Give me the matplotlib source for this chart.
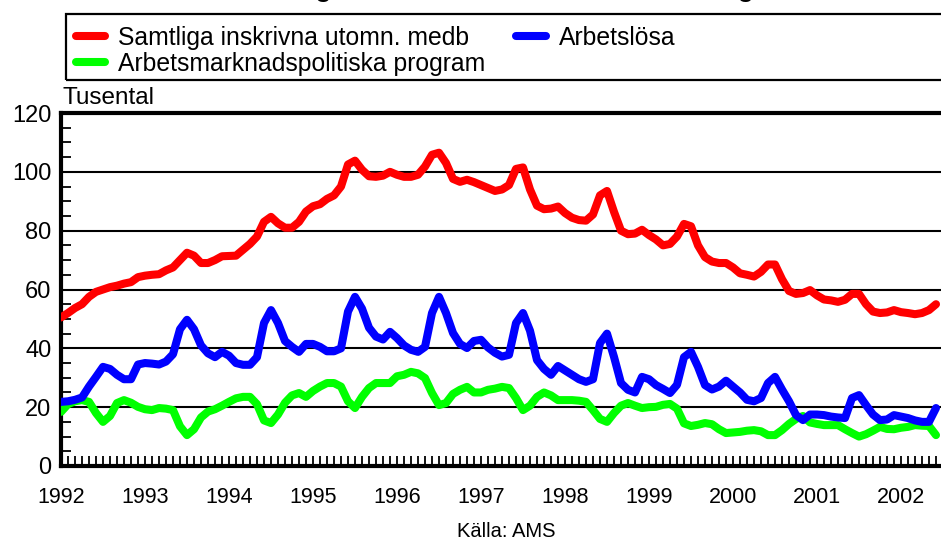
import matplotlib
matplotlib.use("Agg")
import matplotlib.pyplot as plt
from matplotlib.patches import Rectangle
from matplotlib.ticker import MultipleLocator, FixedLocator

plt.rcParams['font.family'] = ['Liberation Sans', 'DejaVu Sans']

# ---- data (thousands, monthly from Jan 1992) ----
start_year = 1992
samtliga = [50.5, 52, 53.7, 55, 57.5, 59.2, 60, 60.8, 61.3, 62, 62.5, 64.2,
            64.7, 65, 65.2, 66.5, 67.5, 70, 72.5, 71.5, 69, 69, 70, 71.3,
            71.4, 71.5, 73.5, 75.5, 78, 83, 84.7, 82.5, 81, 81, 83, 86.5,
            88.3, 89, 90.8, 92, 95, 102.5, 103.8, 100.7, 98.5, 98.3, 98.7, 100,
            99, 98.3, 98.3, 99, 101.8, 105.8, 106.5, 103, 97.6, 96.6, 97.3, 96.5,
            95.5, 94.5, 93.5, 94, 95.5, 101, 101.5, 94, 88.5, 87.3, 87.5, 88.2,
            86, 84.4, 83.6, 83.4, 85.5, 92, 93.5, 86.4, 80, 78.8, 79, 80.3,
            78.5, 77, 75, 75.5, 78, 82.3, 81.5, 75, 71, 69.5, 69, 69,
            67.5, 65.5, 65, 64.4, 66, 68.5, 68.5, 63.5, 59.5, 58.5, 58.8, 59.8,
            58, 56.6, 56.3, 55.8, 56.5, 58.5, 58.5, 55, 52.5, 52, 52.2, 53,
            52.3, 52, 51.6, 52, 53, 55]
arbetslosa = [21.8, 22, 22.5, 23.3, 27, 30.3, 33.7, 33, 31, 29.5, 29.5, 34.5,
              35, 34.8, 34.5, 35.5, 38, 46.5, 49.7, 46.5, 41, 38.3, 37, 38.8,
              37.5, 35, 34.4, 34.4, 37, 48.6, 53, 48.6, 42.5, 40.5, 38.8, 41.5,
              41.5, 40.5, 39, 39, 40, 52.5, 57.5, 53.5, 47, 44, 43, 45.6,
              43.5, 41, 39.5, 38.8, 40.5, 52, 57.5, 52, 45.2, 41.5, 40.1, 42.5,
              42.9, 40.3, 38.5, 37.2, 37.8, 48.6, 52, 46, 36, 33, 31, 34,
              32.5, 31, 29.5, 28.6, 29.5, 41.8, 45, 37.1, 28.2, 25.9, 25, 30.3,
              29.5, 27.5, 26.2, 24.8, 27.6, 37, 38.8, 33.7, 27.5, 26, 27, 29,
              27, 25, 22.5, 22, 23.1, 28.2, 30.3, 26, 22, 17.3, 15.6, 17.5,
              17.5, 17.3, 16.8, 16.5, 16.3, 23.1, 24.1, 20.7, 17.5, 15.6, 15.8, 17.3,
              16.8, 16.3, 15.5, 15, 15, 19.7]
program = [18.4, 21, 22, 22.4, 21.8, 18, 15, 17, 21.4, 22.4, 21.5, 20.1,
           19.3, 19, 19.7, 19.5, 19, 13.5, 10.5, 12.5, 16.5, 18.5, 19.3, 20.5,
           21.8, 23, 23.5, 23.5, 21, 15.5, 14.6, 17.5, 21.5, 24, 24.8, 23.5,
           25.5, 27, 28.2, 28.2, 27, 22, 19.7, 23.5, 26.5, 28.2, 28.2, 28.2,
           30.5, 31, 32, 31.5, 29.9, 24.8, 20.7, 21.4, 24.5, 25.9, 26.9, 25,
           25, 25.9, 26.3, 26.9, 26.5, 23.1, 19, 20.5, 23.5, 25, 24, 22.4,
           22.4, 22.4, 22.2, 21.8, 19, 16, 15, 18, 20.5, 21.4, 20.5, 19.7,
           20, 20.1, 20.8, 21.1, 19.5, 14.5, 13.6, 14, 14.6, 14.2, 12.5, 11.2,
           11.4, 11.6, 12, 12.2, 11.8, 10.5, 10.5, 12.2, 14.3, 16, 17, 14.8,
           14.3, 13.9, 13.9, 13.9, 12.5, 11.2, 10, 10.8, 12, 13.3, 12.6, 12.5,
           13, 13.3, 13.9, 13.7, 13.6, 10.5]
year_labels = ['1992', '1993', '1994', '1995', '1996', '1997', '1998',
               '1999', '2000', '2001', '2002']
y_labels = ['0', '20', '40', '60', '80', '100', '120']
series_names = ['Samtliga inskrivna utomn. medb', 'Arbetslösa',
                'Arbetsmarknadspolitiska program']
title = 'Utomnordiska medborgare inskrivna vid arbetsförmedlingen'
unit = 'Tusental'
source = 'Källa: AMS'

# ---- figure ----
W, H = 941, 541
fig = plt.figure(figsize=(W / 100, H / 100), dpi=100)
x0, x1 = 61, 960
ytop, ybot = 113, 466
ax = fig.add_axes([x0 / W, (H - ybot) / H, (x1 - x0) / W, (ybot - ytop) / H])

t = [start_year + i / 12 for i in range(len(samtliga))]
lw = 5.8
l_s, = ax.plot(t, samtliga, color='#ff0000', lw=lw, solid_capstyle='round',
               solid_joinstyle='round', zorder=3)
l_p, = ax.plot(t, program, color='#00ff00', lw=lw, solid_capstyle='round',
               solid_joinstyle='round', zorder=3)
l_a, = ax.plot(t, arbetslosa, color='#0000ff', lw=lw, solid_capstyle='round',
               solid_joinstyle='round', zorder=4)

ax.set_xlim(start_year, start_year + (x1 - x0) / 84)
ax.set_ylim(0, 120)

years = [int(y) for y in year_labels]
ax.xaxis.set_major_locator(FixedLocator(years))
ax.set_xticklabels(year_labels)
ax.xaxis.set_minor_locator(MultipleLocator(1 / 12))
ax.tick_params(axis='x', which='both', direction='in', length=7, width=1.3,
               labelsize=15.5, pad=15, color='black')

yt = [int(v) for v in y_labels]
ax.yaxis.set_major_locator(FixedLocator(yt))
ax.set_yticklabels(y_labels)
ax.yaxis.set_minor_locator(MultipleLocator(5))
ax.tick_params(axis='y', which='major', length=0, labelsize=17, pad=7)
ax.tick_params(axis='y', which='minor', direction='in', length=7, width=1.3)

ax.grid(axis='y', which='major', color='black', lw=1.5, zorder=1)
ax.set_axisbelow(True)
for s in ['left', 'bottom', 'top']:
    ax.spines[s].set_linewidth(3)
ax.spines['right'].set_visible(False)

# title (mostly above the visible area)
fig.text(40 / W, 1 + 2.5 / H, title, fontsize=18.6, fontweight='bold',
         ha='left', va='baseline')

# legend frame
fig.patches.append(Rectangle((66 / W, 1 - 80 / H), 0.98, 66 / H,
                             transform=fig.transFigure, fill=False,
                             edgecolor='black', lw=1.6))
leg = fig.legend([l_s, l_p, l_a], [series_names[0], series_names[2], series_names[1]],
                 ncol=2, loc='upper left',
                 bbox_to_anchor=(76 / W, 1 - 26 / H), frameon=False,
                 fontsize=17.8, handlelength=1.18, handletextpad=0.53,
                 columnspacing=1.25, labelspacing=0.08, borderpad=0,
                 borderaxespad=0)

fig.text(63 / W, 1 - 104 / H, unit, fontsize=17.5, ha='left', va='baseline')
fig.text(506 / W, 4 / H, source, fontsize=14.5, ha='center', va='baseline')

fig.savefig('out.png', dpi=100)
